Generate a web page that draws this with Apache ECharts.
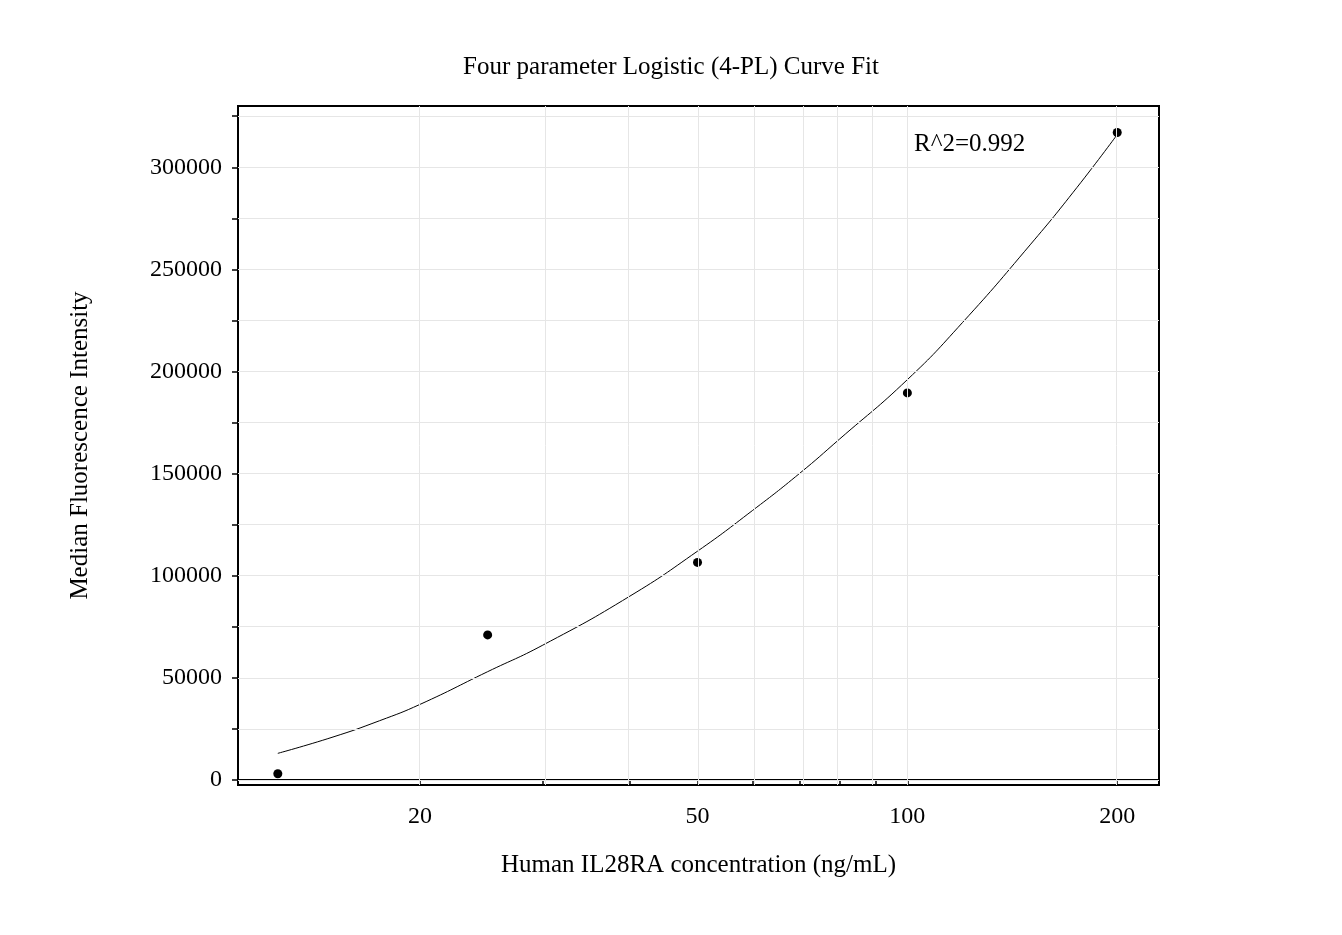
<!DOCTYPE html>
<html><head><meta charset="utf-8">
<script src="https://cdn.jsdelivr.net/npm/echarts@6/dist/echarts.min.js"></script>
<style>html,body{margin:0;padding:0;background:#fff}#c{width:1342px;height:935px}</style>
</head><body><div id="c"></div>
<script>
const pointX = [12.5, 25, 50, 100, 200];
const pointY = [3000, 71000, 106500, 189500, 317000];
const curveX = [12.5, 15, 17.5, 20, 25, 30, 40, 50, 60, 70, 80, 100, 120, 150, 175, 200];
const curveY = [13000, 21000, 29000, 37000, 53000, 66000, 90000, 112000, 132000, 150000, 167000, 196000, 224000, 262000, 290000, 316000];
const xMajor = [20, 50, 100, 200];
const xGrid = [20, 30, 40, 50, 60, 70, 80, 90, 100, 200];
const yMajor = [0, 50000, 100000, 150000, 200000, 250000, 300000];
const yMinor = [0,25000,50000,75000,100000,125000,150000,175000,200000,225000,250000,275000,300000,325000];
const L = Math.log10;
const font = '"Liberation Serif","DejaVu Serif",serif';
const chart = echarts.init(document.getElementById('c'));
chart.setOption({
  animation:false,
  title:{text:'Four parameter Logistic (4-PL) Curve Fit',left:'center',top:50,textStyle:{fontFamily:font,fontSize:25,fontWeight:'normal',color:'#000'}},
  grid:{left:238,top:106,width:921,height:679,show:true,borderColor:'#000',borderWidth:2},
  xAxis:{type:'value',min:L(10.96),max:L(229.6),
    name:'Human IL28RA concentration (ng/mL)',nameLocation:'middle',nameGap:68,
    nameTextStyle:{fontFamily:font,fontSize:25,color:'#000'},
    axisLine:{lineStyle:{color:'#000',width:2}},
    axisTick:{customValues:xGrid.map(L),length:6,lineStyle:{color:'#000',width:1.5}},
    axisLabel:{customValues:xMajor.map(L),formatter:v=>String(Math.round(Math.pow(10,v))),fontFamily:font,fontSize:24,color:'#000',margin:20},
    splitLine:{show:false}},
  yAxis:{type:'value',min:-2500,max:330000,
    name:'Median Fluorescence Intensity',nameLocation:'middle',nameGap:145,
    nameTextStyle:{fontFamily:font,fontSize:25,color:'#000'},
    axisLine:{lineStyle:{color:'#000',width:2}},
    axisTick:{customValues:yMinor,length:6,lineStyle:{color:'#000',width:1.5}},
    axisLabel:{customValues:yMajor,formatter:v=>String(v),fontFamily:font,fontSize:24,color:'#000',margin:16},
    splitLine:{show:false}},
  graphic:[{type:'text',left:914,top:132,style:{text:'R^2=0.992',font:'25px '+font,fill:'#000'}}],
  series:[
    {type:'line',data:[],z:1,silent:true,
     markLine:{silent:true,symbol:'none',label:{show:false},lineStyle:{color:'#e6e6e6',width:1,type:'solid'},
       data:xGrid.map(v=>({xAxis:L(v)})).concat(yMinor.map(v=>({yAxis:v})))}},
    {type:'line',data:curveX.map((x,i)=>[L(x),curveY[i]]),smooth:true,showSymbol:false,
     lineStyle:{color:'#000',width:1},z:3},
    {type:'scatter',data:pointX.map((x,i)=>[L(x),pointY[i]]),symbolSize:9,itemStyle:{color:'#000',opacity:1},z:4}
  ]
});
</script></body></html>
